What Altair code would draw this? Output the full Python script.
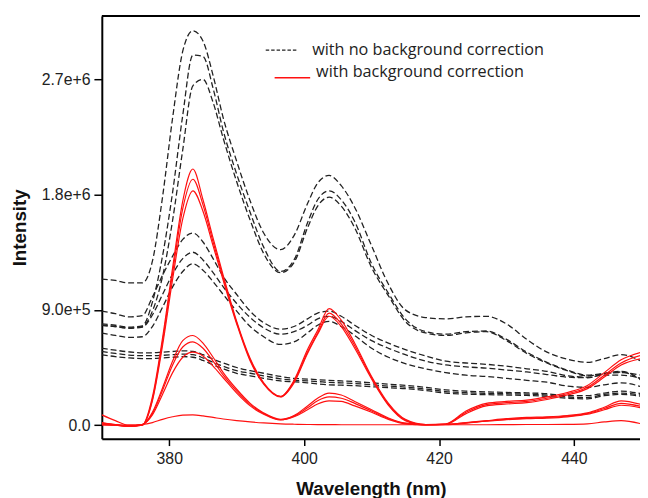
import altair as alt
import pandas as pd

# Wavelength grid (nm)
wavelength = [370, 372, 374, 376, 377.5, 379, 380.5, 382, 383.5, 385, 386.5, 388, 390, 392, 394,
              396.5, 398.5, 400.5, 402, 403.7, 405.5, 407.5, 410, 412.5, 415, 418, 421, 424, 427,
              430, 433, 436, 439, 442, 444.5, 447, 450]

UNIT = 1e5  # intensities below are in units of 1e5

# Spectra with no background correction (dashed black)
nobg_1 = [11.4, 11.3, 11.1, 11.1, 12.8, 17.8, 24.0, 29.2, 30.8, 30.0, 27.3, 24.0, 20.6, 17.5, 15.0,
          13.7, 14.8, 17.3, 18.9, 19.5, 18.7, 17.0, 14.0, 11.0, 9.0, 8.4, 8.3, 8.45, 8.5,
          7.9, 6.7, 5.7, 5.15, 4.9, 5.2, 5.5, 5.0]
nobg_2 = [7.9, 7.8, 7.65, 7.75, 9.6, 13.2, 18.2, 24.2, 28.9, 28.8, 26.3, 23.0, 19.6, 16.6, 13.9,
          12.0, 12.9, 15.8, 17.6, 18.3, 17.6, 15.9, 12.6, 10.3, 8.3, 7.3, 7.1, 7.3, 7.35,
          6.7, 5.7, 4.9, 4.3, 3.9, 4.05, 4.2, 3.55]
nobg_3 = [7.8, 7.7, 7.6, 7.7, 8.9, 11.6, 16.0, 21.5, 26.5, 27.0, 25.2, 22.4, 19.0, 16.0, 13.4,
          11.9, 12.7, 15.4, 17.1, 17.8, 17.1, 15.4, 12.3, 10.1, 8.1, 7.2, 7.0, 7.2, 7.3,
          6.6, 5.6, 4.85, 4.25, 3.85, 4.0, 4.15, 3.5]
nobg_4 = [8.9, 8.7, 8.45, 8.55, 10.0, 11.7, 13.2, 14.5, 15.0, 14.3, 13.0, 11.6, 10.2, 8.9, 8.0,
          7.5, 7.7, 8.3, 8.75, 8.9, 8.5, 7.8, 7.0, 6.4, 5.9, 5.4, 5.0, 4.85, 4.75,
          4.6, 4.4, 4.2, 3.85, 3.75, 3.9, 3.9, 3.65]
nobg_5 = [7.8, 7.7, 7.55, 7.65, 8.6, 10.2, 11.8, 13.0, 13.5, 12.9, 11.9, 10.8, 9.5, 8.4, 7.6,
          7.1, 7.3, 7.8, 8.3, 8.5, 8.1, 7.4, 6.6, 6.0, 5.5, 5.0, 4.7, 4.55, 4.45,
          4.3, 4.15, 3.95, 3.75, 3.7, 4.0, 4.1, 3.9]
nobg_6 = [7.2, 7.0, 6.85, 6.9, 7.7, 9.2, 10.8, 12.0, 12.6, 12.1, 11.2, 10.2, 8.9, 7.7, 6.9,
          6.3, 6.5, 7.2, 7.8, 8.1, 7.7, 7.0, 6.0, 5.3, 4.8, 4.4, 4.1, 3.9, 3.8,
          3.65, 3.5, 3.35, 3.05, 2.95, 3.15, 3.3, 3.0]
nobg_7 = [6.0, 5.85, 5.72, 5.65, 5.65, 5.7, 5.75, 5.8, 5.75, 5.5, 5.15, 4.85, 4.5, 4.25, 4.05,
          3.8, 3.65, 3.6, 3.55, 3.5, 3.45, 3.4, 3.3, 3.2, 3.1, 2.95, 2.75, 2.65, 2.6,
          2.55, 2.52, 2.45, 2.3, 2.3, 2.5, 2.65, 2.45]
nobg_8 = [5.75, 5.6, 5.47, 5.42, 5.42, 5.45, 5.5, 5.55, 5.5, 5.25, 4.9, 4.6, 4.25, 4.05, 3.85,
          3.62, 3.5, 3.45, 3.4, 3.33, 3.3, 3.25, 3.15, 3.05, 2.97, 2.82, 2.62, 2.53, 2.48,
          2.45, 2.42, 2.35, 2.2, 2.15, 2.4, 2.5, 2.35]
nobg_9 = [5.5, 5.35, 5.25, 5.2, 5.2, 5.25, 5.3, 5.35, 5.3, 5.05, 4.7, 4.4, 4.05, 3.85, 3.65,
          3.45, 3.38, 3.3, 3.22, 3.15, 3.12, 3.08, 3.0, 2.92, 2.85, 2.7, 2.5, 2.42, 2.38,
          2.35, 2.32, 2.25, 2.1, 2.05, 2.3, 2.4, 2.25]

# Spectra with background correction (solid red)
bg_1 = [0.05, 0.0, -0.1, 0.0, 2.2, 6.8, 12.3, 17.5, 20.0, 17.6, 14.6, 11.7, 8.1, 5.2, 3.3,
        2.25, 3.5, 5.9, 7.4, 9.1, 8.2, 6.4, 3.8, 1.7, 0.45, 0.05, 0.1, 1.1, 1.7,
        1.85, 1.95, 2.2, 2.55, 3.1, 4.1, 5.1, 5.7]
bg_2 = [0.03, 0.0, -0.08, 0.0, 2.0, 6.5, 11.9, 16.9, 19.2, 17.2, 14.3, 11.5, 8.0, 5.1, 3.25,
        2.22, 3.4, 5.7, 7.2, 8.75, 7.9, 6.2, 3.7, 1.6, 0.4, 0.03, 0.08, 1.0, 1.6,
        1.75, 1.85, 2.1, 2.45, 2.95, 3.9, 4.85, 5.45]
bg_3 = [0.02, 0.0, -0.06, 0.0, 1.9, 6.2, 11.4, 16.1, 18.3, 16.7, 14.0, 11.3, 7.9, 5.0, 3.2,
        2.2, 3.3, 5.6, 7.1, 8.5, 7.7, 6.0, 3.6, 1.55, 0.35, 0.0, 0.05, 0.9, 1.5,
        1.65, 1.75, 2.0, 2.35, 2.85, 3.75, 4.7, 5.2]
bg_4 = [0.8, 0.35, 0.0, 0.05, 1.0, 2.9, 5.0, 6.6, 7.0, 6.4, 5.3, 4.1, 2.8, 1.7, 0.95,
        0.45, 0.75, 1.5, 2.1, 2.5, 2.35, 1.85, 1.2, 0.55, 0.15, 0.05, 0.05, 0.2, 0.35,
        0.5, 0.6, 0.65, 0.75, 0.95, 1.4, 1.9, 1.6]
bg_5 = [0.15, 0.05, -0.05, 0.05, 0.9, 2.7, 4.7, 6.1, 6.5, 6.0, 5.0, 3.9, 2.65, 1.6, 0.9,
        0.42, 0.7, 1.35, 1.9, 2.2, 2.1, 1.7, 1.1, 0.5, 0.13, 0.04, 0.05, 0.18, 0.32,
        0.45, 0.55, 0.6, 0.7, 0.9, 1.3, 1.7, 1.45]
bg_6 = [0.1, 0.02, -0.1, 0.05, 0.8, 2.4, 4.1, 5.3, 5.7, 5.4, 4.6, 3.7, 2.5, 1.5, 0.85,
        0.4, 0.65, 1.2, 1.65, 1.9, 1.85, 1.5, 1.0, 0.45, 0.1, 0.03, 0.04, 0.15, 0.3,
        0.42, 0.5, 0.55, 0.65, 0.85, 1.2, 1.55, 1.35]
bg_7 = [0.2, 0.05, 0.0, 0.05, 0.2, 0.45, 0.65, 0.78, 0.8, 0.72, 0.6, 0.48, 0.35, 0.25, 0.17,
        0.1, 0.07, 0.05, 0.04, 0.04, 0.03, 0.03, 0.03, 0.03, 0.03, 0.03, 0.03, 0.03, 0.03,
        0.04, 0.05, 0.05, 0.06, 0.1, 0.25, 0.35, 0.1]

x_ticks = [380, 400, 420, 440]
y_ticks = [0, 9.0e5, 1.8e6, 2.7e6]
legend_labels = ["with no background correction", "with background correction"]

nobg = [nobg_1, nobg_2, nobg_3, nobg_4, nobg_5, nobg_6, nobg_7, nobg_8, nobg_9]
bg = [bg_1, bg_2, bg_3, bg_4, bg_5, bg_6, bg_7]


def long_frame(series_list, prefix):
    rows = []
    for i, vals in enumerate(series_list):
        for w, v in zip(wavelength, vals):
            rows.append({"wl": w, "intensity": v * UNIT, "series": f"{prefix}{i}"})
    return pd.DataFrame(rows)


df_nobg = long_frame(nobg, "n")
df_bg = long_frame(bg, "b")
one = pd.DataFrame({"k": [0]})  # single row for decorations

W, H = 545, 428
x_scale = alt.Scale(domain=[370, 370 + W / 6.83], nice=False, zero=False)
y_scale = alt.Scale(domain=[-1.057e5, 3.195e6], nice=False, zero=False)

x_enc = alt.X("wl:Q", scale=x_scale,
              axis=alt.Axis(values=x_ticks, title="Wavelength (nm)", grid=False,
                            titleY=57, titleBaseline="alphabetic", labelPadding=5))
y_enc = alt.Y("intensity:Q", scale=y_scale,
              axis=alt.Axis(values=y_ticks, title="Intensity", grid=False,
                            labelExpr="datum.value == 0 ? '0.0' : format(datum.value, '.1e')",
                            titleX=-77, titleY=H / 2, titleBaseline="alphabetic",
                            labelPadding=4, tickSize=8))

dashed = alt.Chart(df_nobg).mark_line(
    color="#222222", strokeWidth=1.3, strokeDash=[6, 3], interpolate="monotone", clip=True
).encode(x=x_enc, y=y_enc, detail="series:N")

solid = alt.Chart(df_bg).mark_line(
    color="#ff1010", strokeWidth=1.2, interpolate="monotone", clip=True
).encode(x=x_enc, y=y_enc, detail="series:N")

top_border = alt.Chart(one).mark_rule(color="black", strokeWidth=2).encode(
    x=alt.value(0), x2=alt.value(W), y=alt.value(0)
)

leg_dash = alt.Chart(one).mark_rule(color="#222222", strokeWidth=1.2, strokeDash=[3.5, 2]).encode(
    x=alt.value(166), x2=alt.value(198), y=alt.value(34.5)
)
leg_red = alt.Chart(one).mark_rule(color="#ff1010", strokeWidth=1.5).encode(
    x=alt.value(175), x2=alt.value(211), y=alt.value(62.5)
)
leg_t1 = alt.Chart(one).mark_text(
    align="left", baseline="middle", font="Open Sans", fontSize=16.4, fontWeight="normal", color="#222"
).encode(x=alt.value(213), y=alt.value(34.5), text=alt.value(legend_labels[0]))
leg_t2 = alt.Chart(one).mark_text(
    align="left", baseline="middle", font="Open Sans", fontSize=16.4, fontWeight="normal", color="#222"
).encode(x=alt.value(217), y=alt.value(56.5), text=alt.value(legend_labels[1]))

chart = alt.layer(dashed, solid, top_border, leg_dash, leg_red, leg_t1, leg_t2).properties(
    width=W, height=H,
    autosize=alt.AutoSizeParams(type="none"),
    padding={"left": 95, "top": 5, "right": 0, "bottom": 57},
).configure_view(stroke=None).configure_axis(
    labelFont="Liberation Sans", labelFontSize=16, labelColor="#222",
    titleFont="Liberation Sans", titleFontSize=19, titleFontWeight="bold", titleColor="#111",
    domainColor="black", domainWidth=2, tickColor="black", tickWidth=1.5, tickSize=7,
)

chart.save("out.html", embed_options={"renderer": "svg", "actions": False})
